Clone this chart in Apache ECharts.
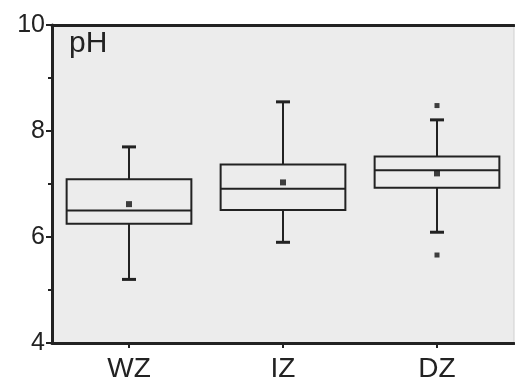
<!DOCTYPE html>
<html>
<head>
<meta charset="utf-8">
<script src="https://cdn.jsdelivr.net/npm/echarts@6/dist/echarts.min.js"></script>
<style>
  html, body { margin: 0; padding: 0; background: #fff; }
  #chart { width: 515px; height: 385px; }
</style>
</head>
<body>
<div id="chart"></div>
<script>
// zones on the x axis
const categories = ['WZ', 'IZ', 'DZ'];
// [whisker low, Q1, median, Q3, whisker high]
const boxValues = [
    [5.20, 6.25, 6.50, 7.09, 7.70],
    [5.90, 6.51, 6.91, 7.37, 8.55],
    [6.09, 6.93, 7.26, 7.52, 8.21]
];
const meanValues = [6.62, 7.03, 7.20];
// outliers as [category index, value]
const outliers = [[2, 8.48], [2, 5.66]];

const chart = echarts.init(document.getElementById('chart'));
const ink = '#222';

chart.setOption({
    animation: false,
    grid: {
        left: 52, right: 1, top: 25, bottom: 42,
        show: true,
        backgroundColor: '#ececec',
        borderColor: '#d0d0d0',
        borderWidth: 1
    },
    title: {
        text: 'pH',
        left: 64, top: 24,
        textStyle: { fontFamily: 'Liberation Sans', fontSize: 30, fontWeight: 'normal', color: ink }
    },
    xAxis: [
        {
            type: 'category',
            data: categories,
            axisLine: { lineStyle: { color: ink, width: 3 } },
            axisTick: { show: true, alignWithLabel: true, inside: false, length: 5, lineStyle: { color: ink, width: 2 } },
            axisLabel: { margin: 12, fontFamily: 'Liberation Sans', fontSize: 28, color: ink },
            splitLine: { show: false }
        },
        {
            type: 'category',
            data: categories,
            position: 'top',
            axisLine: { lineStyle: { color: ink, width: 3 } },
            axisTick: { show: false },
            axisLabel: { show: false }
        }
    ],
    yAxis: {
        type: 'value',
        min: 4, max: 10, interval: 2,
        axisLine: { show: true, lineStyle: { color: ink, width: 3 } },
        axisTick: { show: true, length: 6, lineStyle: { color: ink, width: 2 } },
        minorTick: { show: true, splitNumber: 2, length: 4, lineStyle: { color: ink, width: 2 } },
        axisLabel: { margin: 7, fontFamily: 'Liberation Sans', fontSize: 25, color: ink },
        splitLine: { show: false }
    },
    series: [
        {
            type: 'custom',
            data: boxValues.map((b, i) => [i].concat(b)),
            encode: { x: 0, y: [1, 2, 3, 4, 5] },
            renderItem: function (params, api) {
                const idx = api.value(0);
                const x = api.coord([idx, 0])[0];
                const half = api.size([1, 0])[0] * 0.405;
                const cap = 7;
                const yLo = api.coord([idx, api.value(1)])[1];
                const yQ1 = api.coord([idx, api.value(2)])[1];
                const yMed = api.coord([idx, api.value(3)])[1];
                const yQ3 = api.coord([idx, api.value(4)])[1];
                const yHi = api.coord([idx, api.value(5)])[1];
                const st = { stroke: ink, lineWidth: 2, fill: null };
                return {
                    type: 'group',
                    children: [
                        { type: 'rect', shape: { x: x - half, y: yQ3, width: half * 2, height: yQ1 - yQ3 }, style: st },
                        { type: 'line', shape: { x1: x - half, y1: yMed, x2: x + half, y2: yMed }, style: st },
                        { type: 'line', shape: { x1: x, y1: yQ3, x2: x, y2: yHi }, style: st },
                        { type: 'line', shape: { x1: x, y1: yQ1, x2: x, y2: yLo }, style: st },
                        { type: 'line', shape: { x1: x - cap, y1: yHi, x2: x + cap, y2: yHi }, style: { stroke: ink, lineWidth: 3 } },
                        { type: 'line', shape: { x1: x - cap, y1: yLo, x2: x + cap, y2: yLo }, style: { stroke: ink, lineWidth: 3 } }
                    ]
                };
            },
            z: 2
        },
        {
            type: 'scatter',
            data: meanValues.map((v, i) => [i, v]),
            symbol: 'rect',
            symbolSize: 6,
            itemStyle: { color: '#111' },
            z: 3
        },
        {
            type: 'scatter',
            data: outliers,
            symbol: 'rect',
            symbolSize: 5,
            itemStyle: { color: '#111' },
            z: 3
        }
    ]
});
</script>
</body>
</html>
